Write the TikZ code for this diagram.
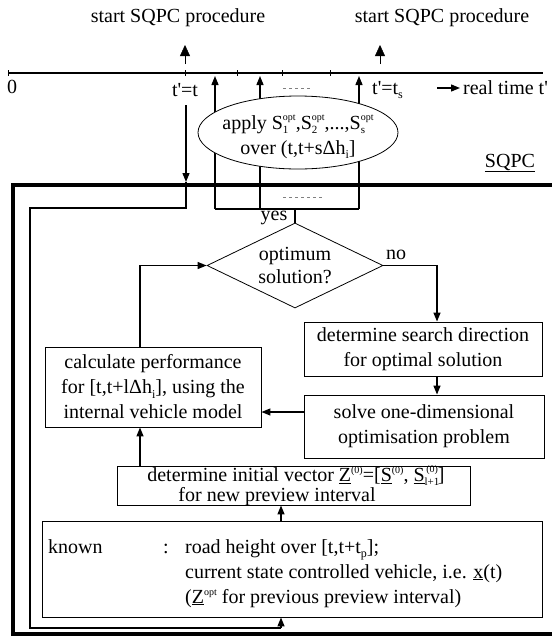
\documentclass[tikz,border=0pt]{standalone}
\usepackage{fontspec}
\setmainfont{Liberation Serif}
\usetikzlibrary{shapes.geometric,arrows.meta}
\newcommand\SubSup[2]{\rlap{\raisebox{-4.5pt}{\fontsize{11}{11}\selectfont #1}}\raisebox{8.5pt}{\fontsize{10}{10}\selectfont #2}}
\newcommand\Sp[1]{\raisebox{7.5pt}{\fontsize{10}{10}\selectfont #1}}
\newcommand\Sb[1]{\raisebox{-4.5pt}{\fontsize{12}{12}\selectfont #1}}
\newcommand\pr{\textquotesingle}
\begin{document}
\begin{tikzpicture}[x=1pt,y=-1pt,
  every node/.style={font=\fontsize{20}{25}\selectfont, inner sep=0pt},
  box/.style={draw, line width=0.9pt, align=center},
  conn/.style={line width=1.3pt},
  arr/.style={conn, -{Triangle[length=9pt,width=7pt]}},
  border/.style={line width=3.5pt},
  faint/.style={gray, dashed, line width=0.6pt},
]
\useasboundingbox (0,0) rectangle (552,638);

% time line
\coordinate (tl0) at (8,73);
\coordinate (tl1) at (543,73);
\draw[line width=1.4pt] (tl0) -- (tl1);
\foreach \x in {8,185,237,282,330} \draw[line width=0.6pt] (\x,70) -- (\x,76);

\node (start1) at (178,18) {start SQPC procedure};
\node (start2) at (442,18) {start SQPC procedure};
\coordinate (sb1) at (185,64); \coordinate (st1) at (185,45);
\coordinate (sb2) at (380,64); \coordinate (st2) at (380,45);
\draw[line width=0.4pt, -{Triangle[length=11pt,width=10pt]}] (sb1) -- (st1);
\draw[line width=0.4pt, -{Triangle[length=11pt,width=10pt]}] (sb2) -- (st2);

\node (zero) at (12,87) {0};
\node (tt) at (185,90) {t\pr=t};
\node[anchor=west] (tts) at (372,90) {t\pr=t\Sb{s}};
\coordinate (rtA) at (437,88); \coordinate (rtB) at (460,88);
\draw[arr] (rtA) -- (rtB);
\node[anchor=west] (rt) at (463,88) {real time t\pr};
\draw[faint] (283,88) -- (311,88);

% lines from the yes branch through the ellipse to the time line
\coordinate (y1) at (215,209); \coordinate (p1) at (215,76);
\coordinate (y2) at (260,209); \coordinate (p2) at (260,76);
\coordinate (y3) at (359,209); \coordinate (p3) at (359,76);
\draw[conn] (y1) -- (y3);
\draw[arr] (y1) -- (p1);
\draw[arr] (y2) -- (p2);
\draw[arr] (y3) -- (p3);
\draw[faint] (283,197) -- (323,197);

\node[draw, ellipse, fill=white, minimum width=200pt, minimum height=73pt, line width=0.8pt] (ell) at (298,132.5) {};
\node[align=center] (elltext) at (298,137) {apply S\SubSup{1}{opt},S\SubSup{2}{opt},...,S\SubSup{s}{opt}\\over (t,t+sΔh\Sb{i}]};

% SQPC frame
\draw[border] (552,185) -- (13,185) -- (13,634) -- (552,634);
\node (sqpc) at (510,163) {\underline{SQPC}};

% loop from t'=t
\coordinate (lt) at (186,105);
\coordinate (lb) at (186,182);
\coordinate (lc) at (186,208);
\coordinate (ll) at (30,208);
\coordinate (lbl) at (30,628);
\coordinate (lbr) at (281,628);
\draw[arr] (lt) -- (lb);
\draw[conn] (lb) -- (lc) -- (ll) -- (lbl) -- (lbr);

% diamond
\node[draw, diamond, minimum width=176pt, minimum height=85pt, line width=0.8pt] (d) at (295,265.5) {};
\node[align=center, font=\fontsize{20}{23}\selectfont] (dtext) at (d) {optimum\\solution?};
\draw[line width=2pt] (d.north) -- (d.north |- y1);
\node (yes) at (274,218) {yes};
\node (no) at (396,255) {no};

% boxes
\node[box, minimum width=238pt, minimum height=54pt] (s1) at (423,349) {determine search direction\\for optimal solution};
\node[box, minimum width=240pt, minimum height=63pt] (s2) at (424,426.5) {solve one-dimensional\\optimisation problem};
\node[box, minimum width=216pt, minimum height=80pt] (calc) at (153,387) {calculate performance\\for [t,t+lΔh\Sb{i}], using the\\internal vehicle model};
\node[box, minimum width=353pt, minimum height=39pt] (iv) at (293.5,485.5) {};
\node (iv1) at (296,476) {determine initial vector \underline{Z}\Sp{(0)}=[\underline{S}\Sp{(0)}, \underline{S}\SubSup{l+1}{\,(0)}]};
\node (iv2) at (277,497) {for new preview interval};
\node[box, minimum width=500pt, minimum height=96pt] (kn) at (292,569) {};
\node[anchor=base west] (known) at (48,553) {known};
\node[anchor=base west] (colon) at (163,553) {:};
\node[anchor=base west] (k1) at (185,553) {road height over [t,t+t\Sb{p}];};
\node[anchor=base west] (k2) at (185,578) {current state controlled vehicle, i.e. \underline{x}(t)};
\node[anchor=base west] (k3) at (185,603) {(\underline{Z}\Sp{opt} for previous preview interval)};

% connectors
\coordinate (nc) at (437,265.5);
\draw[arr] (d.east) -- (nc) -- (nc |- s1.north);
\draw[arr] (s1.south -| nc) -- (s2.north -| nc);
\coordinate (ay) at (0,412);
\draw[arr] (s2.west |- ay) -- (calc.east |- ay);
\coordinate (cx) at (140,265.5);
\draw[arr] (calc.north -| cx) -- (cx) -- (d.west);
\draw[arr] (iv.north -| cx) -- (calc.south -| cx);
\draw[arr] (kn.north -| lbr) -- (iv.south -| lbr);
\draw[arr] (lbr) -- (kn.south -| lbr);
\end{tikzpicture}
\end{document}
